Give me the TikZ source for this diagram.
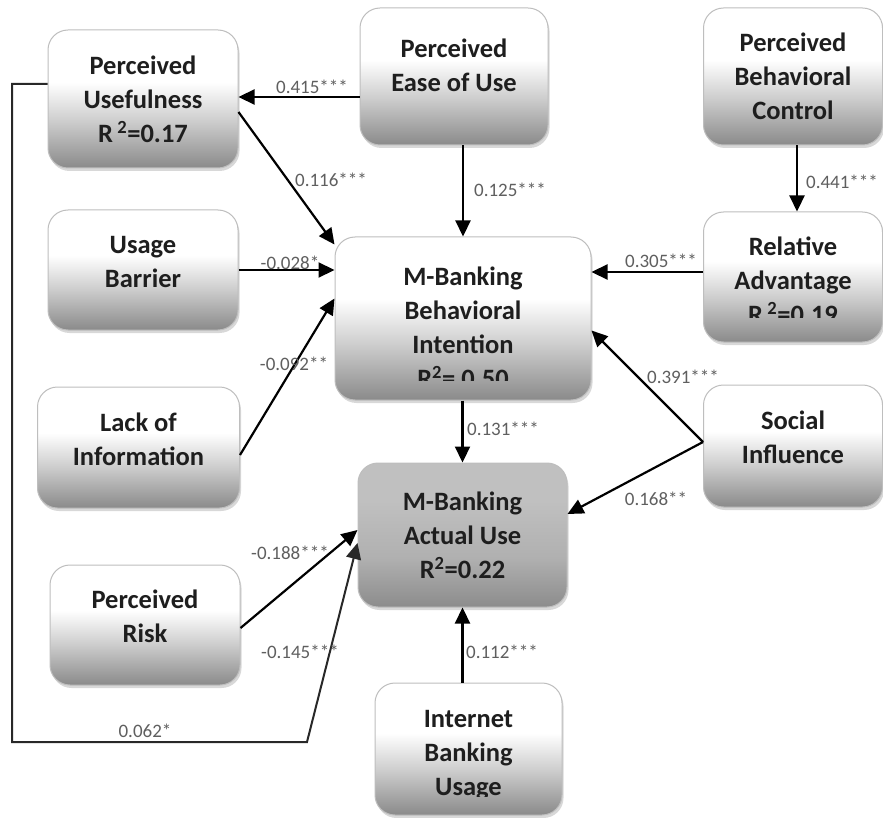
\documentclass[tikz,border=0pt]{standalone}
\usepackage{fontspec}
\setmainfont{Carlito}
\usetikzlibrary{arrows.meta,shadows,calc}
\definecolor{shbot}{RGB}{138,138,138}
\definecolor{shmid}{RGB}{205,205,205}
\definecolor{aubot}{RGB}{140,140,140}
\definecolor{aumid}{RGB}{176,176,176}
\definecolor{autop}{RGB}{192,192,192}
\definecolor{boxline}{RGB}{190,190,190}
\definecolor{txt}{RGB}{30,30,30}
\definecolor{lbl}{RGB}{95,95,95}
\definecolor{loopc}{RGB}{40,40,40}
\pgfdeclareverticalshading{boxsh}{100bp}{color(0bp)=(shbot); color(25bp)=(shbot); color(42bp)=(shmid); color(56bp)=(white); color(100bp)=(white)}
\pgfdeclareverticalshading{aush}{100bp}{color(0bp)=(aubot); color(25bp)=(aubot); color(42bp)=(aumid); color(62bp)=(autop); color(100bp)=(autop)}
\begin{document}
\begin{tikzpicture}[x=1pt,y=-1pt,
  box/.style={rectangle, rounded corners=20pt, draw=boxline, line width=1pt,
    shading=boxsh, drop shadow={shadow xshift=1.5pt, shadow yshift=-3pt, opacity=0.3},
    font=\fontsize{26.5}{34}\selectfont\bfseries, text=txt, align=center, inner sep=0pt},
  aubox/.style={box, shading=aush},
  boxtext/.style={font=\fontsize{26.5}{34}\selectfont\bfseries, text=txt, align=center, inner sep=0pt},
  lab/.style={font=\fontsize{19}{19}\selectfont, text=lbl, inner sep=0pt},
  arr/.style={-{Triangle[length=16pt,width=15pt]}, line width=2.2pt, black},
  looparr/.style={-{Triangle[length=16pt,width=15pt]}, line width=2pt, loopc}
]
\useasboundingbox (0,0) rectangle (883,818);
\fill[white] (0,0) rectangle (883,818);

% boxes
\node[box, minimum width=190pt, minimum height=138pt] (PU) at (143,99) {Perceived\\Usefulness\\R\,\textsuperscript{2}=0.17};
\node[box, minimum width=188pt, minimum height=137pt] (PEOU) at (454,76.5) {Perceived\\Ease of Use\\[-12pt]\mbox{}};
\node[box, minimum width=179pt, minimum height=137pt] (PBC) at (793,76.5) {Perceived\\Behavioral\\Control};
\node[box, minimum width=190pt, minimum height=120pt] (UB) at (143,270) {Usage\\Barrier\\[-17pt]\mbox{}};
\node[box, minimum width=256pt, minimum height=163pt] (BI) at (463,318.5) {};
\node[box, minimum width=179pt, minimum height=130pt] (RA) at (793,277) {};
\node[box, minimum width=202pt, minimum height=121pt] (LoI) at (138.5,447.5) {Lack of\\Information\\[-17pt]\mbox{}};
\node[box, minimum width=179pt, minimum height=122pt] (SI) at (793,446) {Social\\Influence\\[-17pt]\mbox{}};
\node[aubox, minimum width=209pt, minimum height=144pt] (AU) at (462.5,535) {M-Banking\\Actual Use\\R\textsuperscript{2}=0.22};
\node[box, minimum width=190pt, minimum height=120pt] (PR) at (145,625) {Perceived\\Risk\\[-17pt]\mbox{}};
\node[box, minimum width=187pt, minimum height=132pt] (IBU) at (468.5,749) {};

% clipped texts
\begin{scope}
  \clip (335,237) rectangle (592,380);
  \node[boxtext] (BItext) at (463,327) {M-Banking\\Behavioral\\Intention\\R\textsuperscript{2}= 0.50};
\end{scope}
\begin{scope}
  \clip (703,212) rectangle (883,317);
  \node[boxtext] (RAtext) at (793,280) {Relative\\Advantage\\R\,\textsuperscript{2}=0.19};
\end{scope}
\begin{scope}
  \clip (375,683) rectangle (562,796);
  \node[boxtext] (IBUtext) at (468.5,755) {Internet\\Banking\\Usage};
\end{scope}

% connectors
\draw[arr] ($(PEOU.west)+(0,20.5)$) -- ($(PU.east)+(0,-2)$);
\draw[arr] ($(PU.east)+(0,13)$) -- ($(BI.north west)+(0,8)$);
\draw[arr] (PEOU.south -| BI.north) -- (BI.north);
\draw[arr] ($(PBC.south)+(4,0)$) -- ($(RA.north)+(4,0)$);
\draw[arr] ($(RA.west)+(0,-5)$) -- ($(BI.east)+(0,-46.5)$);
\draw[arr] (UB.east) -- (BI.west |- UB.east);
\draw[arr] ($(LoI.east)+(0,7.5)$) -- ($(BI.west)+(0,-20)$);
\coordinate (sis) at ($(SI.west)+(0,-4)$);
\draw[arr] (sis) -- ($(BI.east)+(0,12)$);
\draw[arr] (sis) -- ($(AU.east)+(0,-21)$);
\draw[arr] (BI.south -| AU.north) -- (AU.north);
\draw[arr] ($(PR.east)+(0,3)$) -- ($(AU.west)+(0,-5)$);
\draw[arr] (IBU.north -| AU.south) -- (AU.south);
\coordinate (c1) at (12,84);
\coordinate (c2) at (12,742);
\coordinate (c3) at (307,742);
\draw[looparr] ($(PU.west)+(0,-15)$) -- (c1) -- (c2) -- (c3) -- ($(AU.west)+(0,8)$);

% labels
\node[lab] (l1) at (312,87) {0.415***};
\node[lab] (l2) at (331,180) {0.116***};
\node[lab] (l3) at (510,190) {0.125***};
\node[lab] (l4) at (842,182) {0.441***};
\node[lab] (l5) at (661,261) {0.305***};
\node[lab] (l6) at (290,263) {-0.028*};
\node[lab] (l7) at (294,364) {-0.092**};
\node[lab] (l8) at (683,377) {0.391***};
\node[lab] (l9) at (656,499) {0.168**};
\node[lab] (l10) at (503,429) {0.131***};
\node[lab] (l11) at (290,553) {-0.188***};
\node[lab] (l12) at (300,652) {-0.145***};
\node[lab] (l13) at (145,731) {0.062*};
\node[lab] (l14) at (502,652) {0.112***};
\end{tikzpicture}
\end{document}
